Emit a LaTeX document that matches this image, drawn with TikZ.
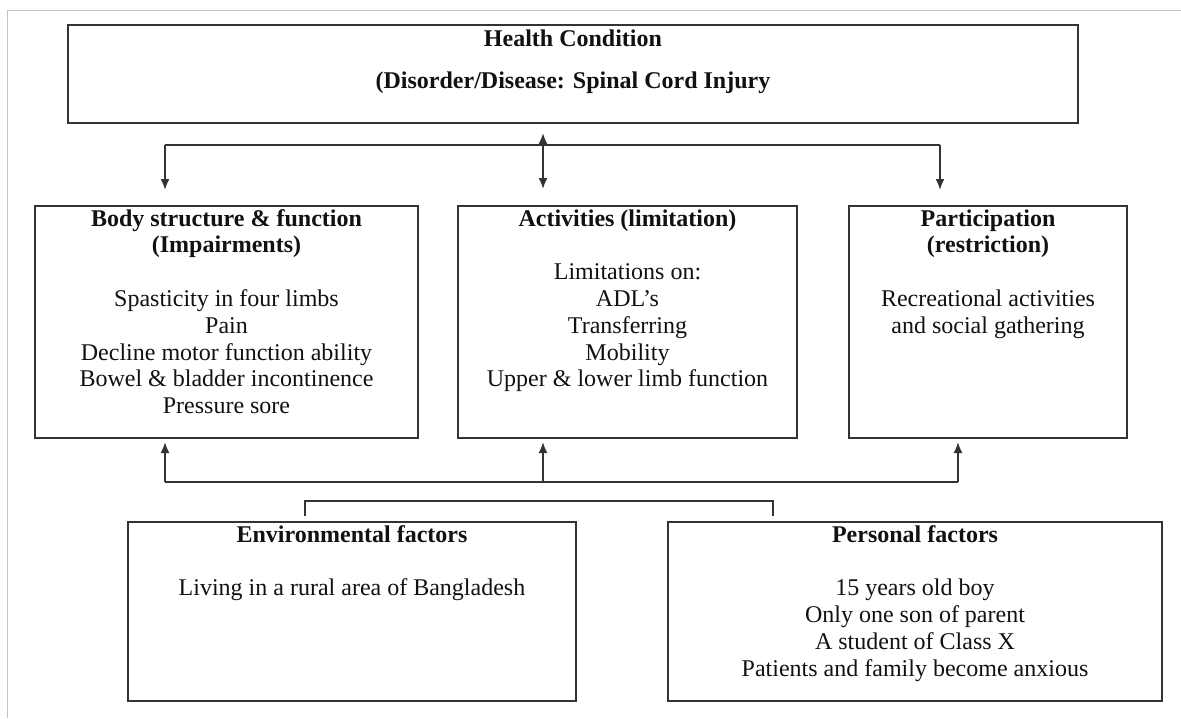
\documentclass[tikz,border=0pt]{standalone}
\usepackage{fontspec}
\setmainfont{Liberation Serif}
\usetikzlibrary{arrows.meta,calc}
\definecolor{ink}{HTML}{111111}
\definecolor{edge}{HTML}{333333}
\definecolor{frame}{HTML}{C4C4C4}
\newcommand{\txt}[1]{\fontsize{24}{26.8}\selectfont\begin{tabular}[t]{@{}c@{}}#1\end{tabular}}
\begin{document}
\begin{tikzpicture}[x=1pt,y=-1pt,
  box/.style={draw=edge,line width=2.2pt,inner sep=0pt,outer sep=0pt,fill=white},
  lbl/.style={anchor=base,inner sep=0pt,text=ink},
  conn/.style={draw=edge,line width=1.8pt},
  arr/.style={conn,-{Latex[length=11pt,width=9pt]}},
  arrtwo/.style={conn,{Latex[length=11pt,width=9pt]}-{Latex[length=11pt,width=9pt]}}]
\useasboundingbox (0,0) rectangle (1181,718);
\fill[white] (0,0) rectangle (1181,718);
\draw[frame,line width=1pt] (7,718) -- (7,10) -- (1181,10);

% boxes
\node[box,minimum width=1010pt,minimum height=98pt] (health) at (573,74) {};
\node[box,minimum width=383pt,minimum height=232pt] (body) at (226.5,322) {};
\node[box,minimum width=339pt,minimum height=232pt] (act) at (627.5,322) {};
\node[box,minimum width=278pt,minimum height=232pt] (part) at (988,322) {};
\node[box,minimum width=448pt,minimum height=179pt] (env) at (352,611.5) {};
\node[box,minimum width=494pt,minimum height=179pt] (pers) at (915,611.5) {};

% texts
\node[lbl] (healthT) at (573,46) {\fontsize{24}{42}\selectfont\begin{tabular}[t]{@{}c@{}}\textbf{Health Condition}\\ \textbf{(Disorder/Disease: Spinal Cord Injury}\end{tabular}};
\node[lbl] (bodyT) at (226.5,226) {\txt{\textbf{Body structure \& function}\\ \textbf{(Impairments)}\\ ~\\ Spasticity in four limbs\\ Pain\\ Decline motor function ability\\ Bowel \& bladder incontinence\\ Pressure sore}};
\node[lbl] (actT) at (627.5,226) {\txt{\textbf{Activities (limitation)}\\ ~\\ Limitations on:\\ ADL’s\\ Transferring\\ Mobility\\ Upper \& lower limb function}};
\node[lbl] (partT) at (988,226) {\txt{\textbf{Participation}\\ \textbf{(restriction)}\\ ~\\ Recreational activities\\ and social gathering}};
\node[lbl] (envT) at (352,542) {\txt{\textbf{Environmental factors}\\ ~\\ Living in a rural area of Bangladesh}};
\node[lbl] (persT) at (915,542) {\txt{\textbf{Personal factors}\\ ~\\ 15 years old boy\\ Only one son of parent\\ A student of Class X\\ Patients and family become anxious}};

% upper connectors
\coordinate (tL) at (165,145);
\coordinate (tR) at (940,145);
\coordinate (bodyIn) at (165,190);
\coordinate (actIn) at (543,189);
\coordinate (healthOut) at (543,133);
\coordinate (partIn) at (940,190);
\draw[conn] (tL) -- (tR);
\draw[arr] (tL) -- (bodyIn);
\draw[arr] (tR) -- (partIn);
\draw[arrtwo] (healthOut) -- (actIn);

% lower connectors
\coordinate (bL) at (165,482);
\coordinate (bC) at (543,482);
\coordinate (bR) at (958,482);
\coordinate (bodyUp) at (165,442);
\coordinate (actUp) at (543,442);
\coordinate (partUp) at (958,442);
\draw[conn] (bL) -- (bR);
\draw[arr] (bL) -- (bodyUp);
\draw[arr] (bC) -- (actUp);
\draw[arr] (bR) -- (partUp);

\coordinate (envTop) at (305,516);
\coordinate (persTop) at (773,516);
\draw[conn] (envTop) -- ++(0,-15) -| (persTop);
\end{tikzpicture}
\end{document}
